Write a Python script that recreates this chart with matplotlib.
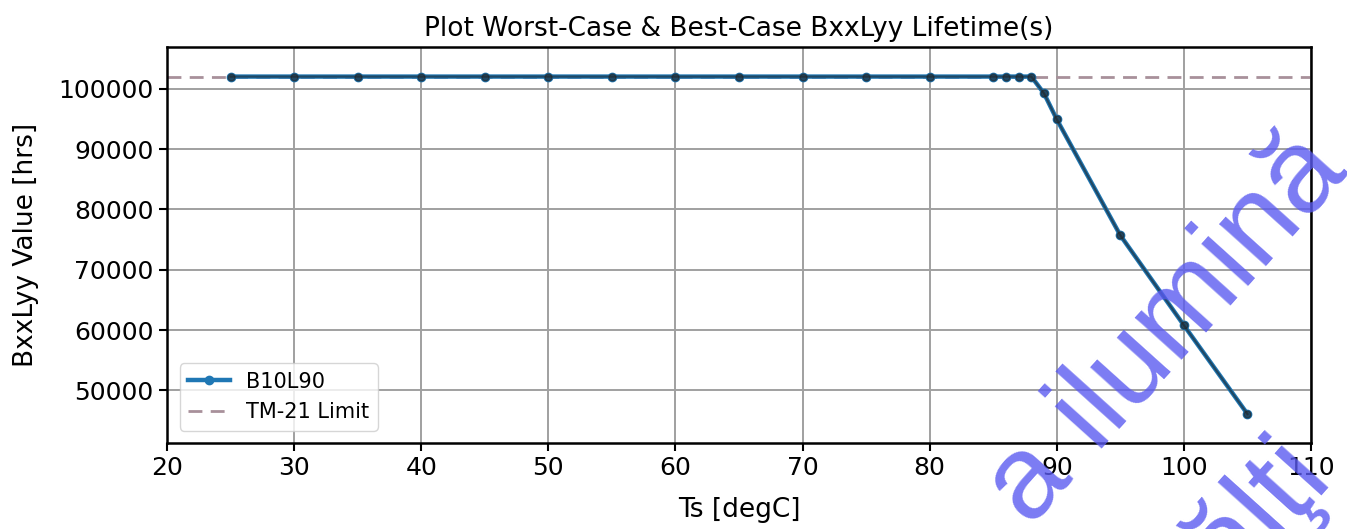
import matplotlib
matplotlib.use("Agg")
import matplotlib.pyplot as plt

# Data
ts_degc = [25, 30, 35, 40, 45, 50, 55, 60, 65, 70, 75, 80, 85, 86, 87, 88, 89, 90, 95, 100, 105]
b10l90_hrs = [102000, 102000, 102000, 102000, 102000, 102000, 102000, 102000, 102000, 102000,
              102000, 102000, 102000, 102000, 102000, 102000, 99200, 94900, 75700, 60800, 46100]
tm21_limit_hrs = 102000
x_ticks = [20, 30, 40, 50, 60, 70, 80, 90, 100, 110]
y_ticks = [50000, 60000, 70000, 80000, 90000, 100000]

fig = plt.figure(figsize=(13.47, 5.29), dpi=100)
ax = fig.add_axes([167 / 1347, 1 - 443 / 529, (1311 - 167) / 1347, (443 - 47) / 529])

ax.axhline(tm21_limit_hrs, color="#a8909a", linestyle="--", linewidth=2, dashes=(5, 3),
           label="TM-21 Limit", zorder=2)
ax.plot(ts_degc, b10l90_hrs, color="#1f77b4", marker="o", markersize=6, linewidth=3.2,
        label="B10L90", zorder=3)
ax.plot(ts_degc, b10l90_hrs, color="#222222", alpha=0.55, marker="o", markersize=5,
        linewidth=1.6, zorder=4)

ax.set_xlim(20, 110)
ax.set_ylim(41300, 106900)
ax.set_xticks(x_ticks)
ax.set_yticks(y_ticks)
ax.grid(True, color="#a0a0a0", linewidth=1.4)
ax.set_axisbelow(True)
for s in ax.spines.values():
    s.set_linewidth(1.8)
ax.tick_params(labelsize=18, length=6, width=1.5)

ax.set_title("Plot Worst-Case & Best-Case BxxLyy Lifetime(s)", fontsize=19, pad=8)
ax.set_xlabel("Ts [degC]", fontsize=19, labelpad=12)
ax.set_ylabel("BxxLyy Value [hrs]", fontsize=19, labelpad=14)

handles, labels = ax.get_legend_handles_labels()
order = [1, 0]
ax.legend([handles[i] for i in order], [labels[i] for i in order], loc="lower left",
          fontsize=15, framealpha=0.8, borderaxespad=0.6)

# watermark
fig.text(1030 / 1347, 1 - 528 / 529, "a ilumină", fontsize=86, color="#5a5af0", alpha=0.8,
         rotation=48, rotation_mode="anchor", ha="left", va="baseline",
         family="Liberation Sans")
fig.text(1268 / 1347, 1 - 418 / 529, "ălţi", fontsize=86, color="#5a5af0", alpha=0.8,
         rotation=48, rotation_mode="anchor", ha="right", va="top",
         family="Liberation Sans")

fig.savefig("out.png", dpi=100)
